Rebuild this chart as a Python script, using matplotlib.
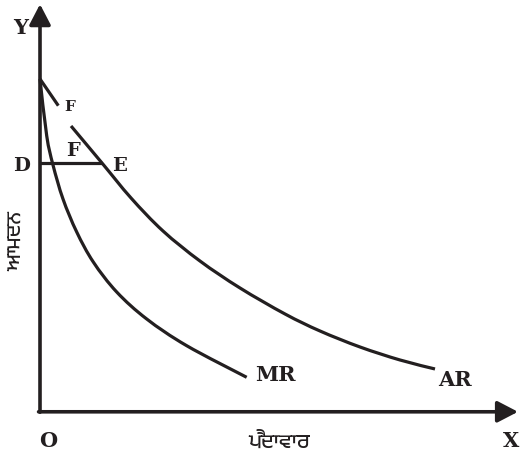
import matplotlib
matplotlib.use("Agg")
import matplotlib.pyplot as plt
from matplotlib import font_manager
from matplotlib.path import Path
from matplotlib.patches import PathPatch

# revenue curves (quantity on x, revenue on y, both 0-100)
mr_q = [0, 1.40, 2.72, 4.81, 7.68, 11.15, 16.05, 22.32, 30.69, 43.24]
mr_r = [82.59, 68.48, 61.19, 52.74, 44.53, 37.06, 29.60, 22.89, 16.24, 8.38]

ar_q = [6.49, 12.97, 19.04, 25.73, 33.47, 41.84, 51.26, 58.58, 66.95, 75.31, 82.64]
ar_r = [70.90, 61.69, 52.99, 44.78, 37.31, 30.60, 24.13, 19.90, 15.92, 12.69, 10.45]

f_q = [0, 3.83]
f_r = [82.59, 75.95]

price_d = 61.69
qty_e = 12.97

x_label = "ਪੈਦਾਵਾਰ"
y_label = "ਆਮਦਨ"

ink = "#231f20"


def smooth_path(xs, ys):
    # catmull-rom through the points, drawn as cubic bezier segments
    pts = list(zip(xs, ys))
    verts = [pts[0]]
    codes = [Path.MOVETO]
    n = len(pts)
    for i in range(n - 1):
        p0 = pts[max(i - 1, 0)]
        p1 = pts[i]
        p2 = pts[i + 1]
        p3 = pts[min(i + 2, n - 1)]
        c1 = (p1[0] + (p2[0] - p0[0]) / 6, p1[1] + (p2[1] - p0[1]) / 6)
        c2 = (p2[0] - (p3[0] - p1[0]) / 6, p2[1] - (p3[1] - p1[1]) / 6)
        verts += [c1, c2, p2]
        codes += [Path.CURVE4] * 3
    return Path(verts, codes)


# look for a font that can draw Gurmukhi, otherwise fall back
gur_fams = [f.name for f in font_manager.fontManager.ttflist if "Gurmukhi" in f.name]
gur_family = gur_fams[:1] + ["DejaVu Sans"]

fig = plt.figure(figsize=(5.23, 4.56), dpi=100)
ax = fig.add_axes([0, 0, 1, 1])
ax.set_xlim(-8.37, 101.05)
ax.set_ylim(-10.95, 102.49)
ax.axis("off")

# axes with arrow heads
arrow = dict(arrowstyle="-|>,head_length=1.25,head_width=0.65", mutation_scale=10,
             lw=2.6, color=ink, shrinkA=0, shrinkB=0)
ax.annotate("", xy=(0, 101.2), xytext=(0, -0.3), arrowprops=arrow)
ax.annotate("", xy=(100, -0.2), xytext=(-0.3, -0.2), arrowprops=arrow)

lw = 2.3
for q, r in [(mr_q, mr_r), (ar_q, ar_r)]:
    ax.add_patch(PathPatch(smooth_path(q, r), fill=False, edgecolor=ink, lw=lw,
                           capstyle="butt"))
ax.plot(f_q, f_r, color=ink, lw=lw, solid_capstyle="butt")
ax.plot([0, qty_e], [price_d, price_d], color=ink, lw=lw, solid_capstyle="butt")

lab = dict(family="DejaVu Serif", weight="bold", color=ink, ha="center", va="center")
ax.text(-3.97, 95.5, "Y", fontsize=15, **lab)
ax.text(6.28, 75.9, "F", fontsize=11, **lab)
ax.text(6.9, 64.9, "F", fontsize=14, **lab)
ax.text(-3.77, 61.2, "D", fontsize=14, **lab)
ax.text(16.7, 61.2, "E", fontsize=14, **lab)
ax.text(49.2, 9.2, "MR", fontsize=15, **lab)
ax.text(86.8, 8.0, "AR", fontsize=15, **lab)
ax.text(1.67, -7.2, "O", fontsize=15, **lab)
ax.text(98.5, -7.2, "X", fontsize=15, **lab)

ax.text(50, -7.5, x_label, fontsize=15, family=gur_family, color=ink,
        ha="center", va="center")
ax.text(-5.0, 42.5, y_label, fontsize=15, family=gur_family, color=ink,
        ha="center", va="center", rotation=90)

fig.savefig("out.png", dpi=100)
